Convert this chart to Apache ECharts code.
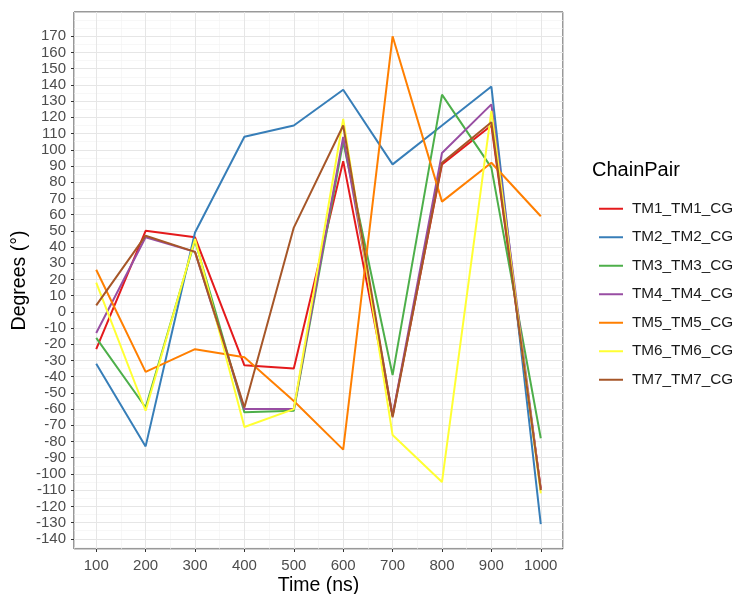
<!DOCTYPE html>
<html>
<head>
<meta charset="utf-8">
<script src="https://cdn.jsdelivr.net/npm/echarts@6/dist/echarts.min.js"></script>
<style>
  html, body { margin: 0; padding: 0; background: #fff; }
  #chart { width: 737px; height: 594px; }
</style>
</head>
<body>
<div id="chart"></div>
<script>
// 数据
var times = [100, 200, 300, 400, 500, 600, 700, 800, 900, 1000];
var pairNames = ['TM1_TM1_CG', 'TM2_TM2_CG', 'TM3_TM3_CG', 'TM4_TM4_CG', 'TM5_TM5_CG', 'TM6_TM6_CG', 'TM7_TM7_CG'];
var tm1 = [-23, 50, 46, -33, -35, 93, -64, 91, 115, -109];
var tm2 = [-32, -83, 49, 108, 115, 137, 91, 115, 139, -131];
var tm3 = [-16, -59, 44, -62, -61, 105, -39, 134, 89, -78];
var tm4 = [-13, 46, 37, -60, -60, 108, -64, 98, 128, -110];
var tm5 = [26, -37, -23, -28, -55, -85, 170, 68, 92, 59];
var tm6 = [18, -61, 45, -71, -60, 119, -76, -105, 124, -112];
var tm7 = [4, 47, 37, -59, 52, 115, -65, 92, 117, -110];
var yTicks = [-140, -130, -120, -110, -100, -90, -80, -70, -60, -50, -40, -30, -20, -10,
  0, 10, 20, 30, 40, 50, 60, 70, 80, 90, 100, 110, 120, 130, 140, 150, 160, 170];
var xTicks = [100, 200, 300, 400, 500, 600, 700, 800, 900, 1000];
var palette = ['#E41A1C', '#377EB8', '#4DAF4A', '#984EA3', '#FF7F00', '#FFFF33', '#A65628'];

var myChart = echarts.init(document.getElementById('chart'));

var allSeries = [tm1, tm2, tm3, tm4, tm5, tm6, tm7];
var font = 'Liberation Sans, Arial, sans-serif';

var series = allSeries.map(function (vals, i) {
    return {
        name: pairNames[i],
        type: 'line',
        xAxisIndex: 0,
        yAxisIndex: 0,
        symbol: 'none',
        lineStyle: { width: 2, color: palette[i] },
        itemStyle: { color: palette[i] },
        data: times.map(function (t, k) { return [t, vals[k]]; })
    };
});

var xMin = 55, xMax = 1045, yMin = -146.3, yMax = 185;
var plain = function (v) { return String(v); };

option = {
    animation: false,
    color: palette,
    grid: {
        left: 74, top: 12, right: 174, bottom: 45,
        outerBoundsMode: 'none', containLabel: false,
        show: true, borderColor: '#333333', borderWidth: 1, backgroundColor: 'transparent'
    },
    graphic: [{
        type: 'text', left: 592, top: 160,
        style: { text: 'ChainPair', fontSize: 20, fontFamily: font, fill: '#000' }
    }],
    legend: {
        data: pairNames.map(function (n) { return { name: n, icon: 'rect' }; }),
        orient: 'vertical',
        left: 594, top: 195,
        itemWidth: 24, itemHeight: 2, itemGap: 11,
        textStyle: { fontSize: 15.3, fontFamily: font, color: '#1a1a1a', lineHeight: 17.5, padding: [0, 0, 0, 4] },
        selectedMode: false
    },
    xAxis: [{
        type: 'value', min: xMin, max: xMax, minInterval: 100, maxInterval: 100,
        name: 'Time (ns)', nameLocation: 'middle', nameGap: 27, nameMoveOverlap: false,
        nameTextStyle: { fontSize: 19.5, fontFamily: font, color: '#000' },
        axisLine: { show: false, onZero: false },
        axisTick: { show: true, length: 3, lineStyle: { color: '#333' }, customValues: xTicks },
        axisLabel: { fontSize: 15, fontFamily: font, color: '#4D4D4D', margin: 9, customValues: xTicks, formatter: plain },
        splitLine: { show: true, lineStyle: { color: '#E6E6E6', width: 1 } },
        z: 3
    }, {
        type: 'value', min: xMin, max: xMax, minInterval: 50, maxInterval: 50,
        position: 'bottom',
        axisLine: { show: false, onZero: false }, axisTick: { show: false }, axisLabel: { show: false },
        splitLine: { show: true, lineStyle: { color: '#F2F2F2', width: 0.6 } },
        z: 1
    }],
    yAxis: [{
        type: 'value', min: yMin, max: yMax, minInterval: 10, maxInterval: 10,
        name: 'Degrees (°)', nameLocation: 'middle', nameGap: 44, nameMoveOverlap: false,
        nameTextStyle: { fontSize: 19.5, fontFamily: font, color: '#000' },
        axisLine: { show: false, onZero: false },
        axisTick: { show: true, length: 3, lineStyle: { color: '#333' }, customValues: yTicks },
        axisLabel: { fontSize: 15, fontFamily: font, color: '#4D4D4D', margin: 8, customValues: yTicks, formatter: plain },
        splitLine: { show: true, lineStyle: { color: '#E6E6E6', width: 1 } },
        z: 3
    }, {
        type: 'value', min: yMin, max: yMax, minInterval: 5, maxInterval: 5,
        position: 'left',
        axisLine: { show: false, onZero: false }, axisTick: { show: false }, axisLabel: { show: false },
        splitLine: { show: true, lineStyle: { color: '#F2F2F2', width: 0.6 } },
        z: 1
    }],
    series: series
};

if (option && typeof option === "object") {
    myChart.setOption(option, true);
}
</script>
</body>
</html>
